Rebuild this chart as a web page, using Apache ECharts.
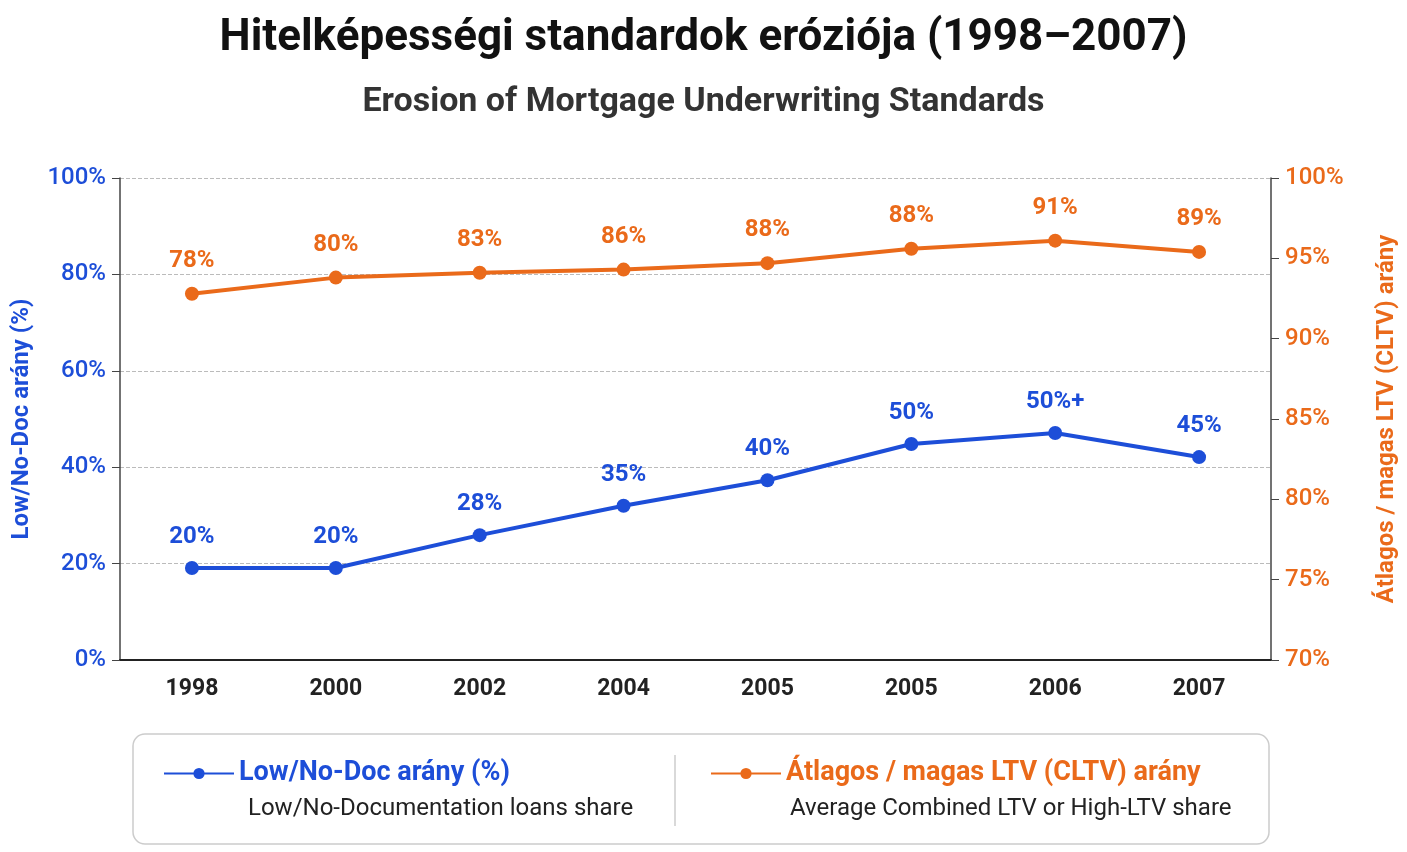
<!DOCTYPE html>
<html><head><meta charset="utf-8">
<script src="https://cdn.jsdelivr.net/npm/echarts@6/dist/echarts.min.js"></script>
<style>html,body{margin:0;background:#fff}#c{width:1407px;height:852px}</style>
</head><body><div id="c"></div>
<script>
const years = ['1998', '2000', '2002', '2004', '2005', '2005', '2006', '2007']
const lowDoc = [19.1, 19.1, 25.9, 32, 37.3, 44.8, 47.1, 42.1]
const lowDocLabels = ['20%', '20%', '28%', '35%', '40%', '50%', '50%+', '45%']
const ltv = [92.8, 93.8, 94.1, 94.3, 94.7, 95.6, 96.1, 95.4]
const ltvLabels = ['78%', '80%', '83%', '86%', '88%', '88%', '91%', '89%']

const BLUE = '#1d4ed8'
const ORANGE = '#ea6a1a'
const FONT = 'Roboto, "Noto Sans", sans-serif'

const chart = echarts.init(document.getElementById('c'))
chart.setOption({
  textStyle: { fontFamily: FONT },
  title: [
    { text: 'Hitelképességi standardok eróziója (1998–2007)', left: 'center', top: 12,
      textStyle: { fontSize: 44, fontWeight: 'bold', color: '#111' } },
    { text: 'Erosion of Mortgage Underwriting Standards', left: 'center', top: 80,
      textStyle: { fontSize: 34, fontWeight: 'bold', color: '#333' } }
  ],
  grid: { left: 120, right: 135, top: 178, bottom: 192 },
  legend: [
    { data: ['Low/No-Doc arány (%)'], left: 158, top: 755, itemWidth: 70, itemHeight: 14,
      textStyle: { fontSize: 27, fontWeight: 'bold', color: BLUE } },
    { data: ['Átlagos / magas LTV (CLTV) arány'], left: 705, top: 755, itemWidth: 70, itemHeight: 14,
      textStyle: { fontSize: 27, fontWeight: 'bold', color: ORANGE } }
  ],
  graphic: [
    { type: 'rect', shape: { x: 133, y: 734, width: 1136, height: 110, r: 12 },
      style: { fill: '#fff', stroke: '#ccc', lineWidth: 1.5 }, z: -1 },
    { type: 'line', shape: { x1: 675, y1: 755, x2: 675, y2: 826 }, style: { stroke: '#ccc', lineWidth: 1.5 } },
    { type: 'text', left: 248, top: 797, style: { text: 'Low/No-Documentation loans share', fill: '#222', font: '24px ' + FONT } },
    { type: 'text', left: 790, top: 797, style: { text: 'Average Combined LTV or High-LTV share', fill: '#222', font: '24px ' + FONT } }
  ],
  xAxis: {
    type: 'category', data: years,
    axisLine: { lineStyle: { color: '#222', width: 2 } },
    axisTick: { show: false },
    axisLabel: { fontSize: 23, fontWeight: 'bold', color: '#222', margin: 18 }
  },
  yAxis: [
    { type: 'value', min: 0, max: 100, interval: 20,
      name: 'Low/No-Doc arány (%)', nameLocation: 'middle', nameGap: 86, nameRotate: 90,
      nameTextStyle: { fontSize: 24, fontWeight: 'bold', color: BLUE },
      axisLine: { show: true, lineStyle: { color: '#444', width: 1.5 } },
      axisTick: { show: true, length: 8 },
      axisLabel: { formatter: '{value}%', fontSize: 24, fontWeight: 500, color: BLUE, margin: 14 },
      splitLine: { lineStyle: { type: 'dashed', color: '#bbb' } } },
    { type: 'value', min: 70, max: 100, interval: 5,
      name: 'Átlagos / magas LTV (CLTV) arány', nameLocation: 'middle', nameGap: 104, nameRotate: 90,
      nameTextStyle: { fontSize: 24, fontWeight: 'bold', color: ORANGE },
      axisLine: { show: true, lineStyle: { color: '#444', width: 1.5 } },
      axisTick: { show: true, length: 8 },
      axisLabel: { formatter: '{value}%', fontSize: 24, fontWeight: 500, color: ORANGE, margin: 14 },
      splitLine: { show: false } }
  ],
  series: [
    { name: 'Low/No-Doc arány (%)', type: 'line', data: lowDoc, yAxisIndex: 0,
      color: BLUE, symbol: 'circle', symbolSize: 14, lineStyle: { width: 4 },
      label: { show: true, position: 'top', distance: 12, fontSize: 24, fontWeight: 'bold', color: BLUE,
        formatter: p => lowDocLabels[p.dataIndex] } },
    { name: 'Átlagos / magas LTV (CLTV) arány', type: 'line', data: ltv, yAxisIndex: 1,
      color: ORANGE, symbol: 'circle', symbolSize: 14, lineStyle: { width: 4 },
      label: { show: true, position: 'top', distance: 14, fontSize: 24, fontWeight: 'bold', color: ORANGE,
        formatter: p => ltvLabels[p.dataIndex] } }
  ]
})
</script></body></html>
